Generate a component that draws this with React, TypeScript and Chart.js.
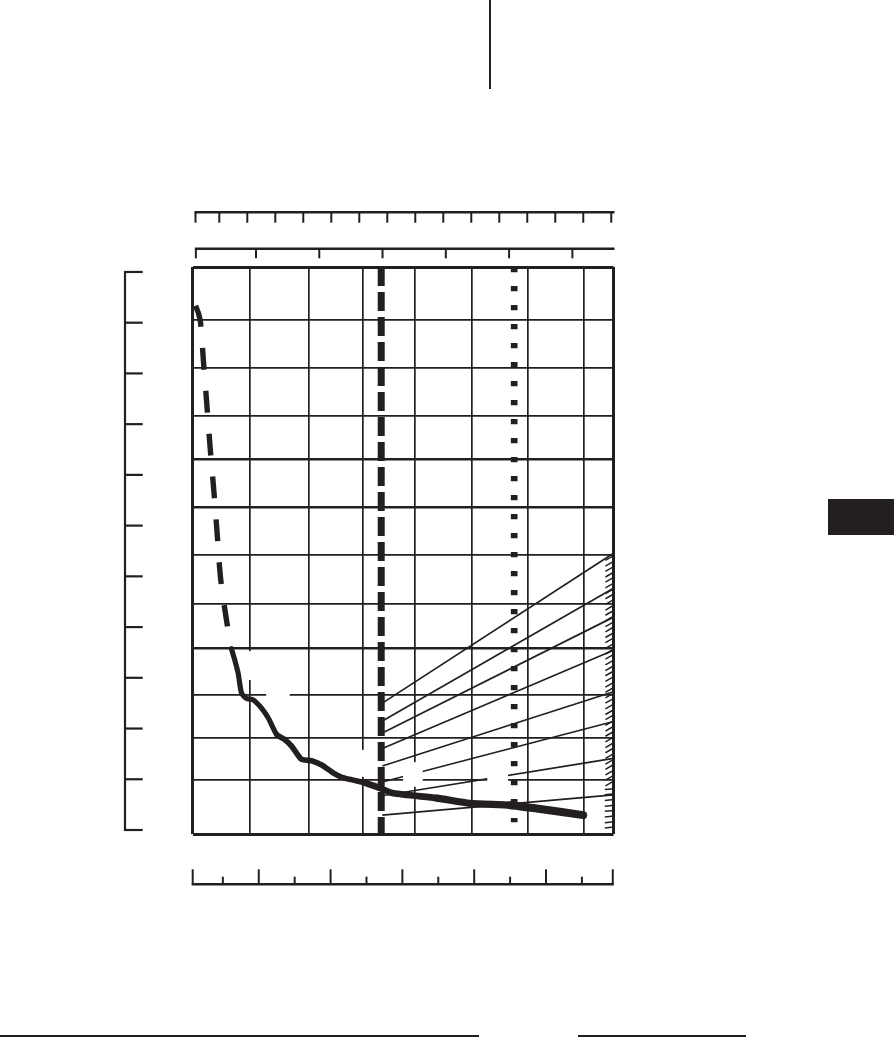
import { useEffect, useRef } from 'react';
import { Chart, registerables } from 'chart.js';

Chart.register(...registerables);

const INK = '#231f20';

// ---- main grid (data units) ----
const xGridValues = [0, 1.02, 2.07, 3.03, 3.96, 4.98, 5.98, 6.97, 7.5];
const yGridValues = [0, 1.14, 2.03, 2.94, 3.92, 4.87, 5.9, 6.92, 7.92, 8.85, 9.86, 10.88, 12];
const yHeavyLines = [3.92, 6.92, 7.92];

// ---- main curve ----
const curveDashedX = [0.05, 0.1, 0.14, 0.19, 0.25, 0.31, 0.38, 0.44, 0.5, 0.61, 0.69];
const curveDashedY = [11.18, 11.03, 10.82, 10.03, 9.12, 8.19, 7.22, 6.29, 5.38, 4.47, 3.92];
const curveSolidX = [0.69, 0.75, 0.81, 0.87, 0.96, 1.08, 1.23, 1.35, 1.5, 1.65, 1.77, 1.94, 2.12, 2.3, 2.51, 2.66, 2.86, 3.1, 3.34, 3.58, 4.35, 4.94, 5.66, 6.13, 6.96];
const curveSolidY = [3.92, 3.68, 3.4, 2.98, 2.87, 2.84, 2.66, 2.45, 2.1, 1.99, 1.85, 1.58, 1.55, 1.46, 1.29, 1.2, 1.14, 1.07, 0.97, 0.86, 0.76, 0.65, 0.61, 0.54, 0.4];

// ---- limit lines ----
const dashedLimitX = 3.36;
const dashedLimitY = [12, 0];
const dottedLimitX = 5.73;
const dottedLimitY = [12, 0.25];

// ---- fan of thin lines ----
const fanStartX = 3.38;
const fanEndX = 7.5;
const fanStartY = [2.77, 2.39, 2.14, 1.81, 1.44, 1.1, 0.81, 0.4];
const fanEndY = [5.94, 5.2, 4.59, 3.89, 3.01, 2.38, 1.6, 0.83];

// ---- hatch marks at the right edge ----
const hatchX = 7.43;
const hatchY = [5.84, 5.72, 5.61, 5.49, 5.38, 5.26, 5.14, 5.03, 4.91, 4.79, 4.68, 4.56, 4.44, 4.33, 4.21, 4.1, 3.98, 3.86, 3.75, 3.63, 3.51, 3.4, 3.28, 3.16, 3.05, 2.93, 2.82, 2.7, 2.58, 2.47, 2.35, 2.23, 2.12, 2.0, 1.88, 1.77, 1.65, 1.53, 1.42, 1.3, 1.19, 1.07, 0.95, 0.84, 0.72, 0.6, 0.49, 0.37, 0.25, 0.14];

// ---- erased label areas [x0, x1, y0, y1] ----
const labelGaps = [
  [1.31, 1.73, 2.84, 3.05],
  [0.96, 1.1, 3.26, 3.87],
  [2.96, 3.11, 1.21, 1.78],
  [3.75, 4.1, 1.0, 1.52],
  [5.25, 5.62, 1.02, 1.31],
];

// ---- rulers ----
const rulerTop1Ticks = [0.15, 1, 2, 3, 4, 5, 6, 7, 8, 9, 10, 11, 12, 13, 14, 15];
const rulerTop1Line = [0.15, 15.08];
const rulerTop2Ticks = [0.05, 1, 2, 3, 4, 5, 6];
const rulerTop2Line = [0.05, 6.65];
const rulerBottomMajor = [0.08, 1, 2, 3, 4, 5, 5.93];
const rulerBottomMinor = [0.5, 1.5, 2.5, 3.5, 4.5, 5.5];
const rulerBottomLine = [0.08, 5.93];
const rulerLeftTicks = [0, 1, 2, 3, 4, 5, 6, 7, 8, 9, 10, 11];
const rulerLeftLine = [0, 11];

const pts = (xs: number[], ys: number[]) => xs.map((x, i) => ({ x, y: ys[i] }));

function hRuler(ctx: CanvasRenderingContext2D, scale: any, y: number, line: number[], majors: number[], minors: number[], majLen: number, minLen: number, dir: number) {
  ctx.lineWidth = 2.4;
  ctx.beginPath();
  ctx.moveTo(scale.getPixelForValue(line[0]) - 1, y);
  ctx.lineTo(scale.getPixelForValue(line[1]) + 1, y);
  ctx.stroke();
  ctx.lineWidth = 2;
  const tick = (v: number, len: number) => {
    const x = scale.getPixelForValue(v);
    ctx.beginPath();
    ctx.moveTo(x, y);
    ctx.lineTo(x, y + dir * len);
    ctx.stroke();
  };
  majors.forEach((v) => tick(v, majLen));
  minors.forEach((v) => tick(v, minLen));
}

function vRuler(ctx: CanvasRenderingContext2D, scale: any, x: number, line: number[], ticks: number[], len: number) {
  ctx.lineWidth = 2.2;
  ctx.beginPath();
  ctx.moveTo(x, scale.getPixelForValue(line[0]) + 1);
  ctx.lineTo(x, scale.getPixelForValue(line[1]) - 1);
  ctx.stroke();
  ticks.forEach((v) => {
    const y = scale.getPixelForValue(v);
    ctx.beginPath();
    ctx.moveTo(x - 1, y);
    ctx.lineTo(x + len, y);
    ctx.stroke();
  });
}

const decorPlugin = {
  id: 'decor',
  afterDatasetsDraw(chart: any) {
    const { ctx } = chart;
    const xs = chart.scales.x;
    const ys = chart.scales.y;
    ctx.save();
    ctx.fillStyle = '#ffffff';
    labelGaps.forEach(([x0, x1, y0, y1]) => {
      const px0 = xs.getPixelForValue(x0);
      const px1 = xs.getPixelForValue(x1);
      const py0 = ys.getPixelForValue(y1);
      const py1 = ys.getPixelForValue(y0);
      ctx.fillRect(px0, py0, px1 - px0, py1 - py0);
    });
    ctx.restore();
  },
  afterDraw(chart: any) {
    const { ctx, chartArea: a } = chart;
    ctx.save();
    ctx.strokeStyle = INK;
    ctx.lineCap = 'butt';
    hRuler(ctx, chart.scales.rTop1, a.top - 54.7, rulerTop1Line, rulerTop1Ticks, [], 10.4, 10.4, 1);
    hRuler(ctx, chart.scales.rTop2, a.top - 18.3, rulerTop2Line, rulerTop2Ticks, [], 9.6, 9.6, 1);
    hRuler(ctx, chart.scales.rBottom, a.bottom + 50.3, rulerBottomLine, rulerBottomMajor, rulerBottomMinor, 15, 7.6, -1);
    vRuler(ctx, chart.scales.rLeft, a.left - 67.7, rulerLeftLine, rulerLeftTicks, 17.7);
    ctx.restore();
  },
};

export default function App() {
  const canvasRef = useRef<HTMLCanvasElement | null>(null);

  useEffect(() => {
    if (!canvasRef.current) return;
    const lineBase = { pointRadius: 0, borderColor: INK, fill: false };
    const datasets: any[] = [
      {
        ...lineBase,
        data: pts(curveSolidX, curveSolidY),
        borderWidth: 5.5,
        tension: 0.2,
        borderCapStyle: 'round',
        borderJoinStyle: 'round',
        segment: {
          borderWidth: (c: any) => {
            const x = c.p0.parsed.x;
            if (x < 1.5) return 5.2;
            if (x < 3.0) return 5.6;
            if (x < 4.0) return 6.6;
            if (x < 5.5) return 7.3;
            return 8;
          },
        },
      },
      {
        ...lineBase,
        data: pts(curveDashedX, curveDashedY),
        borderWidth: 5.4,
        tension: 0.3,
        borderDash: [22, 21],
        borderCapStyle: 'butt',
      },
      {
        ...lineBase,
        data: dashedLimitY.map((y) => ({ x: dashedLimitX, y })),
        borderWidth: 7,
        borderDash: [19, 6],
        borderCapStyle: 'butt',
      },
      {
        ...lineBase,
        data: dottedLimitY.map((y) => ({ x: dottedLimitX, y })),
        borderWidth: 6.7,
        borderDash: [5.3, 13.7],
        borderCapStyle: 'butt',
      },
      ...fanStartY.map((y0, i) => ({
        ...lineBase,
        data: [
          { x: fanStartX, y: y0 },
          { x: fanEndX, y: fanEndY[i] },
        ],
        borderWidth: 1.7,
      })),
      {
        data: hatchY.map((y) => ({ x: hatchX, y })),
        showLine: false,
        pointStyle: 'line',
        pointRadius: 4.8,
        pointBorderWidth: 1.5,
        pointBorderColor: INK,
        pointRotation: (c: any) => (c.raw && c.raw.y < 1.0 ? -6 : -30),
      },
    ];

    const chart = new Chart(canvasRef.current, {
      type: 'line',
      data: { datasets },
      plugins: [decorPlugin],
      options: {
        animation: false,
        responsive: true,
        maintainAspectRatio: false,
        events: [],
        layout: {
          autoPadding: false,
          padding: { left: 192.7, top: 267, right: 280.5, bottom: 203 },
        },
        plugins: { legend: { display: false }, tooltip: { enabled: false } },
        scales: {
          x: {
            type: 'linear',
            position: 'bottom',
            min: 0,
            max: 7.5,
            ticks: { display: false },
            border: { display: false },
            grid: {
              color: INK,
              drawTicks: false,
              lineWidth: (c: any) => {
                const v = c.tick ? c.tick.value : 0;
                return v === 0 || v === 7.5 ? 3 : 1.7;
              },
            },
            afterBuildTicks: (s: any) => {
              s.ticks = xGridValues.map((v) => ({ value: v }));
            },
          },
          y: {
            type: 'linear',
            position: 'left',
            min: 0,
            max: 12,
            ticks: { display: false },
            border: { display: false },
            grid: {
              color: INK,
              drawTicks: false,
              lineWidth: (c: any) => {
                const v = c.tick ? c.tick.value : 0;
                if (v === 0 || v === 12) return 3;
                return yHeavyLines.includes(v) ? 2.6 : 1.7;
              },
            },
            afterBuildTicks: (s: any) => {
              s.ticks = yGridValues.map((v) => ({ value: v }));
            },
          },
          rTop1: { type: 'linear', axis: 'x', position: 'top', display: false, min: 0.05, max: 15.08 },
          rTop2: { type: 'linear', axis: 'x', position: 'top', display: false, min: 0, max: 6.65 },
          rBottom: { type: 'linear', axis: 'x', position: 'bottom', display: false, min: 0.08, max: 5.94 },
          rLeft: { type: 'linear', axis: 'y', position: 'left', display: false, min: -0.079, max: 11.098 },
        } as any,
      },
    });
    return () => chart.destroy();
  }, []);

  return (
    <div style={{ position: 'absolute', left: 0, top: 0, width: 894, height: 1037, background: '#ffffff' }}>
      <canvas ref={canvasRef} />
      <div style={{ position: 'absolute', left: 489, top: 0, width: 2.4, height: 89, background: INK }} />
      <div style={{ position: 'absolute', left: 828, top: 499, width: 66, height: 36, background: INK }} />
      <div style={{ position: 'absolute', left: 0, top: 1034.5, width: 479, height: 2, background: INK }} />
      <div style={{ position: 'absolute', left: 578, top: 1034.5, width: 168, height: 2, background: INK }} />
    </div>
  );
}
